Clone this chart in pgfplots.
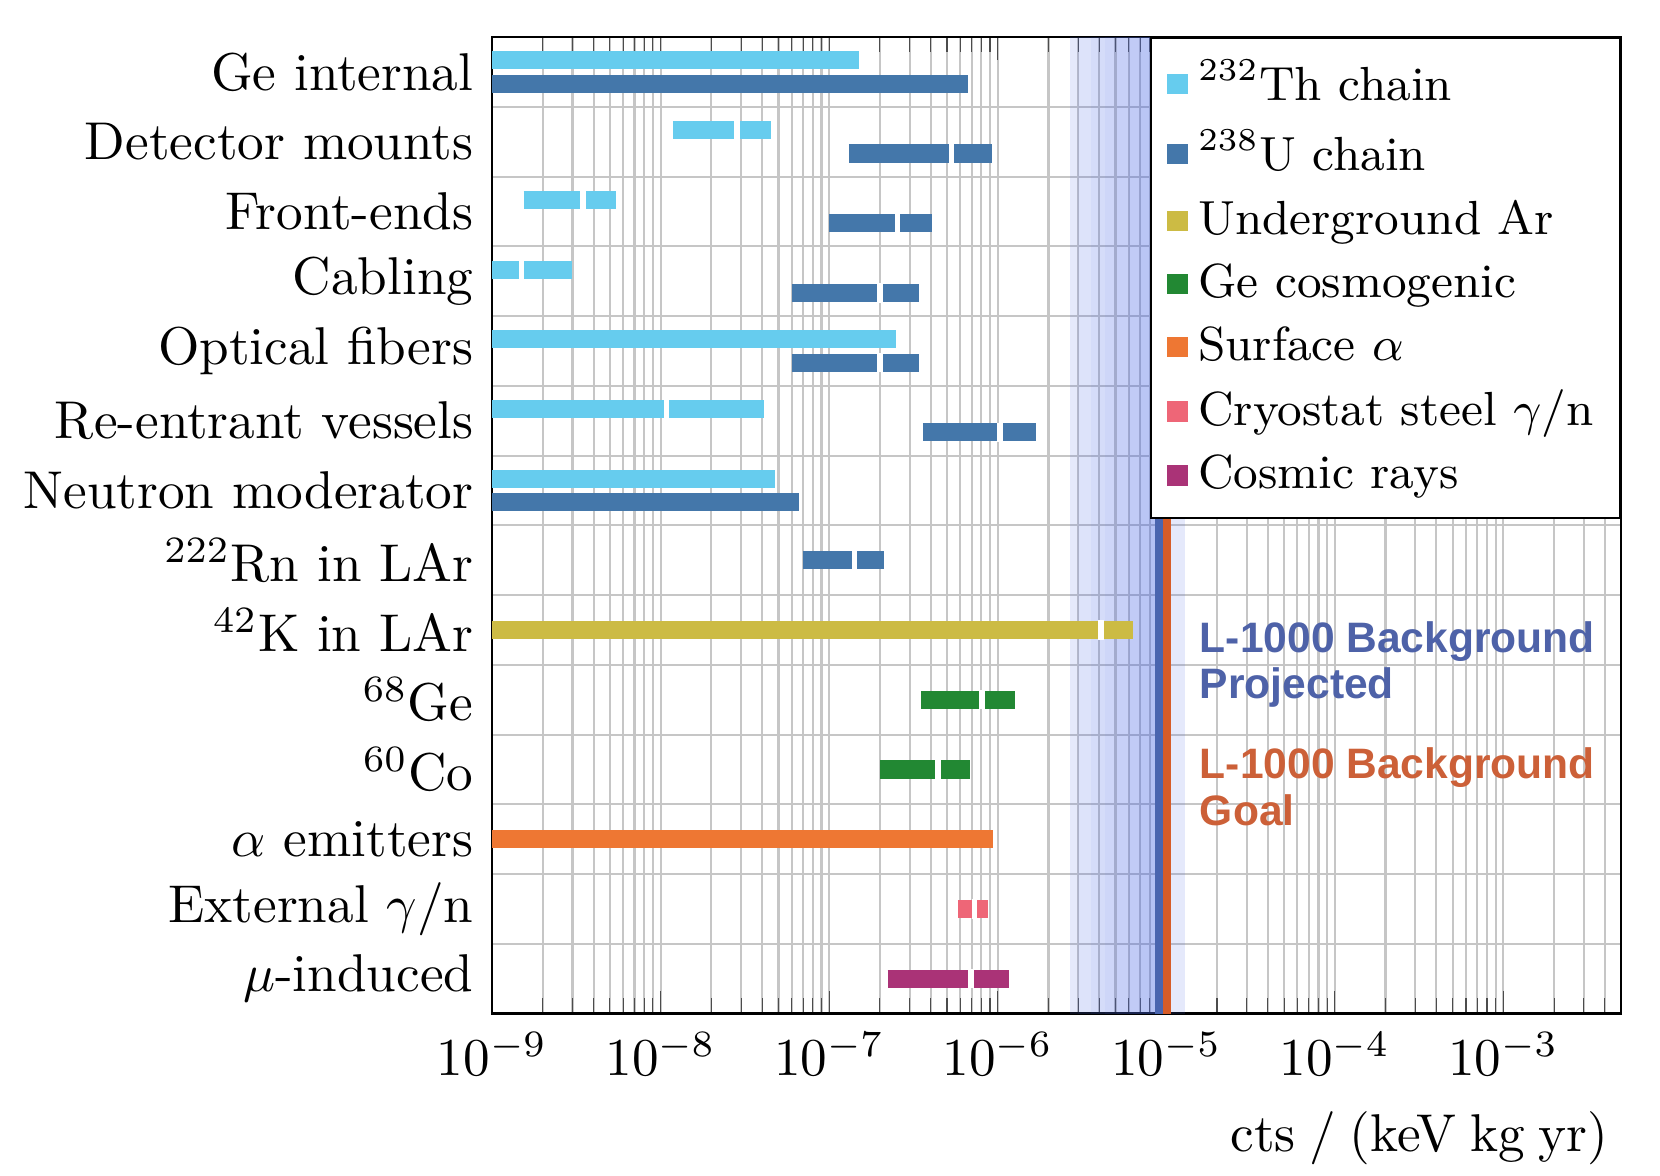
\documentclass[border=0pt]{standalone}
\usepackage{fontspec}
\usepackage{pgfplots}
\pgfplotsset{compat=1.18}
\newfontfamily\lsans{Liberation Sans}
\definecolor{thc}{HTML}{66CCEE}
\definecolor{uc}{HTML}{4477AA}
\definecolor{arc}{HTML}{CCBB44}
\definecolor{gec}{HTML}{228833}
\definecolor{alc}{HTML}{EE7733}
\definecolor{cryc}{HTML}{EE6677}
\definecolor{cosc}{HTML}{AA3377}
\definecolor{bandc}{RGB}{80,110,230}
\definecolor{projline}{HTML}{4A65AF}
\definecolor{goalline}{HTML}{D65C28}
\definecolor{projtext}{HTML}{4E62A8}
\definecolor{goaltext}{HTML}{CC6038}
\begin{document}
\begin{tikzpicture}
\useasboundingbox (-92.5pt,-30.5pt) rectangle (219.5pt,190.5pt);
\begin{axis}[
  at={(0,0)}, anchor=south west,
  scale only axis, width=212.2pt, height=183.5pt,
  xmode=log, xmin=1e-9, xmax=5e-3,
  ymin=-0.5, ymax=13.5,
  xtick={1e-9,1e-8,1e-7,1e-6,1e-5,1e-4,1e-3},
  minor xtick={2e-9,3e-9,4e-9,5e-9,6e-9,7e-9,8e-9,9e-9,
    2e-8,3e-8,4e-8,5e-8,6e-8,7e-8,8e-8,9e-8,
    2e-7,3e-7,4e-7,5e-7,6e-7,7e-7,8e-7,9e-7,
    2e-6,3e-6,4e-6,5e-6,6e-6,7e-6,8e-6,9e-6,
    2e-5,3e-5,4e-5,5e-5,6e-5,7e-5,8e-5,9e-5,
    2e-4,3e-4,4e-4,5e-4,6e-4,7e-4,8e-4,9e-4,
    2e-3,3e-3,4e-3},
  ytick={0,...,13},
  yticklabels={{$\mu$-induced},{External $\gamma$/n},{$\alpha$ emitters},{$^{60}$Co},{$^{68}$Ge},{$^{42}$K in LAr},{$^{222}$Rn in LAr},{Neutron moderator},{Re-entrant vessels},{Optical fibers},{Cabling},{Front-ends},{Detector mounts},{Ge internal}},
  minor ytick={0.5,1.5,...,12.5},
  ytick style={draw=none},
  xmajorgrids, xminorgrids, yminorgrids,
  major grid style={gray!45, line width=0.4pt},
  minor grid style={gray!45, line width=0.4pt},
  xtick style={gray!60!black},
  xlabel={cts\hspace{2.6pt}/\hspace{2.6pt}(keV\hspace{2.6pt}kg\hspace{2.6pt}yr)},
  xlabel style={at={(rel axis cs:1,0)}, anchor=east, inner sep=0pt, yshift=-23.5pt, xshift=-2.2pt},
  legend cell align=left,
  legend style={at={(rel axis cs:1,1)}, anchor=north east, draw=black, fill=white, font=\small},
  legend image code/.code={\fill[#1] (0pt,-1.9pt) rectangle (3.8pt,1.9pt);},
]
\addlegendimage{fill=thc, draw=none}\addlegendentry{$^{232}$Th chain}
\addlegendimage{fill=uc, draw=none}\addlegendentry{$^{238}$U chain}
\addlegendimage{fill=arc, draw=none}\addlegendentry{Underground Ar}
\addlegendimage{fill=gec, draw=none}\addlegendentry{Ge cosmogenic}
\addlegendimage{fill=alc, draw=none}\addlegendentry{Surface $\alpha$}
\addlegendimage{fill=cryc, draw=none}\addlegendentry{Cryostat steel $\gamma$/n}
\addlegendimage{fill=cosc, draw=none}\addlegendentry{Cosmic rays}

% projection band
\addplot[forget plot, draw=none, fill=bandc, fill opacity=0.15] coordinates {(2.7e-6,-0.5) (1.3e-5,-0.5) (1.3e-5,13.5) (2.7e-6,13.5)} -- cycle;
\addplot[forget plot, draw=none, fill=bandc, fill opacity=0.055] coordinates {(3.0e-6,-0.5) (9e-6,-0.5) (9e-6,13.5) (3.0e-6,13.5)} -- cycle;
\addplot[forget plot, draw=none, fill=bandc, fill opacity=0.055] coordinates {(3.6e-6,-0.5) (9e-6,-0.5) (9e-6,13.5) (3.6e-6,13.5)} -- cycle;
\addplot[forget plot, draw=none, fill=bandc, fill opacity=0.055] coordinates {(4.3e-6,-0.5) (9e-6,-0.5) (9e-6,13.5) (4.3e-6,13.5)} -- cycle;
\addplot[forget plot, draw=none, fill=bandc, fill opacity=0.055] coordinates {(5.1e-6,-0.5) (9e-6,-0.5) (9e-6,13.5) (5.1e-6,13.5)} -- cycle;
\addplot[forget plot, draw=none, fill=bandc, fill opacity=0.055] coordinates {(6.0e-6,-0.5) (9e-6,-0.5) (9e-6,13.5) (6.0e-6,13.5)} -- cycle;
\addplot[forget plot, draw=none, fill=bandc, fill opacity=0.055] coordinates {(7.0e-6,-0.5) (9e-6,-0.5) (9e-6,13.5) (7.0e-6,13.5)} -- cycle;
\addplot[forget plot, draw=none, fill=bandc, fill opacity=0.055] coordinates {(8.0e-6,-0.5) (9e-6,-0.5) (9e-6,13.5) (8.0e-6,13.5)} -- cycle;

\addplot[forget plot, projline, line width=1.5pt] coordinates {(9.1e-6,-0.5) (9.1e-6,13.5)};
\addplot[forget plot, goalline, line width=1.5pt] coordinates {(1.015e-5,-0.5) (1.015e-5,13.5)};

% 232Th chain
\addplot[forget plot, draw=thc, line width=3.4pt, unbounded coords=jump] table {
x y
1e-9 13.167
1.5e-7 13.167
nan nan
1.18e-8 12.167
4.5e-8 12.167
nan nan
1.54e-9 11.167
5.4e-9 11.167
nan nan
1e-9 10.167
2.97e-9 10.167
nan nan
1e-9 9.167
2.5e-7 9.167
nan nan
1e-9 8.167
4.13e-8 8.167
nan nan
1e-9 7.167
4.8e-8 7.167
};
% 238U chain
\addplot[forget plot, draw=uc, line width=3.4pt, unbounded coords=jump] table {
x y
1e-9 12.833
6.7e-7 12.833
nan nan
1.31e-7 11.833
9.3e-7 11.833
nan nan
1e-7 10.833
4.1e-7 10.833
nan nan
6e-8 9.833
3.4e-7 9.833
nan nan
6e-8 8.833
3.4e-7 8.833
nan nan
3.6e-7 7.833
1.69e-6 7.833
nan nan
1e-9 6.833
6.6e-8 6.833
nan nan
6.97e-8 6
2.1e-7 6
};
% Underground Ar
\addplot[forget plot, draw=arc, line width=3.4pt] table {
x y
1e-9 5
6.35e-6 5
};
% Ge cosmogenic
\addplot[forget plot, draw=gec, line width=3.4pt, unbounded coords=jump] table {
x y
3.52e-7 4
1.26e-6 4
nan nan
2.01e-7 3
6.8e-7 3
};
% Surface alpha
\addplot[forget plot, draw=alc, line width=3.4pt] table {
x y
1e-9 2
9.4e-7 2
};
% Cryostat steel
\addplot[forget plot, draw=cryc, line width=3.4pt] table {
x y
5.8e-7 1
8.8e-7 1
};
% Cosmic rays
\addplot[forget plot, draw=cosc, line width=3.4pt] table {
x y
2.22e-7 0
1.16e-6 0
};
% central-value marks
\addplot[forget plot, only marks, mark=|, mark size=1.8pt, mark options={draw=white, line width=1pt}] table {
x y
2.84e-8 12.167
3.46e-9 11.167
1.49e-9 10.167
1.08e-8 8.167
5.3e-7 11.833
2.55e-7 10.833
2e-7 9.833
2e-7 8.833
1.03e-6 7.833
1.41e-7 6
4.09e-6 5
8.06e-7 4
4.43e-7 3
7.3e-7 1
6.95e-7 0
};

\node[anchor=west, align=left, inner sep=0pt, text=projtext, font=\lsans\bfseries\fontsize{8}{8.7}\selectfont] at (axis cs:1.56e-5,4.51) {L-1000 Background\\Projected};
\node[anchor=west, align=left, inner sep=0pt, text=goaltext, font=\lsans\bfseries\fontsize{8}{8.7}\selectfont] at (axis cs:1.56e-5,2.75) {L-1000 Background\\Goal};
\end{axis}
\end{tikzpicture}
\end{document}
